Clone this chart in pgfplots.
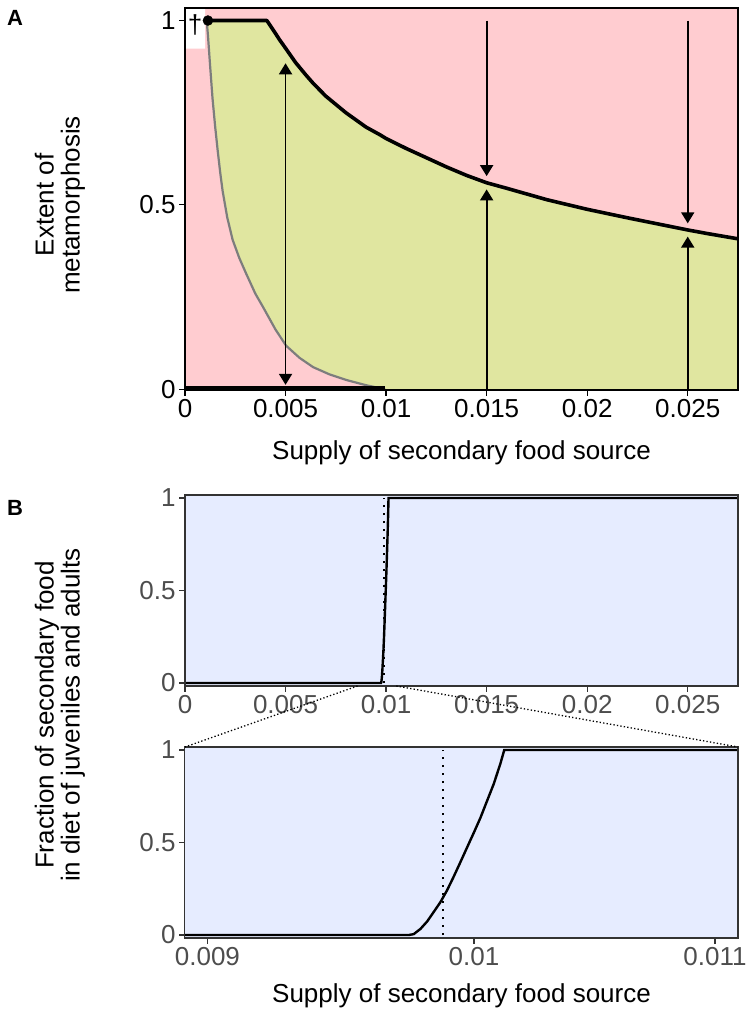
\documentclass[border=0pt]{standalone}
\usepackage{fontspec}
\setmainfont{Liberation Sans}
\usepackage{pgfplots}
\pgfplotsset{compat=1.18}
\usepackage{pgfplotstable}
\usetikzlibrary{arrows.meta}
\definecolor{pinkc}{RGB}{255,204,208}
\definecolor{greenc}{RGB}{224,230,160}
\definecolor{bluec}{RGB}{230,236,255}
\definecolor{greyc}{RGB}{125,125,125}
\definecolor{axg}{RGB}{51,51,51}
\definecolor{tickg}{RGB}{77,77,77}

% upper boundary (black curve), panel A
\pgfplotstableread{
x y
0.00114 1.000
0.00407 1.000
0.0045 0.965
0.0047 0.948
0.0050 0.925
0.0055 0.886
0.0060 0.853
0.00637 0.830
0.0070 0.795
0.0080 0.750
0.0090 0.711
0.0097 0.690
0.0100 0.680
0.0110 0.653
0.0120 0.628
0.0130 0.603
0.0140 0.580
0.0150 0.560
0.0160 0.545
0.0180 0.514
0.0200 0.488
0.0220 0.465
0.0240 0.443
0.0250 0.432
0.0260 0.422
0.0275 0.408
}\upperdata

% lower boundary (grey curve), panel A
\pgfplotstableread{
x y
0.00108 1.000
0.00115 0.953
0.00125 0.876
0.00137 0.788
0.00150 0.712
0.00162 0.650
0.00175 0.588
0.00187 0.538
0.00210 0.466
0.00237 0.405
0.00270 0.356
0.00303 0.315
0.00350 0.259
0.00387 0.224
0.00450 0.162
0.00503 0.118
0.00570 0.085
0.00637 0.060
0.00720 0.040
0.00803 0.025
0.00900 0.011
0.00995 0.000
}\greydata

% region between the two boundaries (closed outline)
\pgfplotstableread{
x y
0.00108 1.000
0.00407 1.000
0.0045 0.965
0.0047 0.948
0.0050 0.925
0.0055 0.886
0.0060 0.853
0.00637 0.830
0.0070 0.795
0.0080 0.750
0.0090 0.711
0.0097 0.690
0.0100 0.680
0.0110 0.653
0.0120 0.628
0.0130 0.603
0.0140 0.580
0.0150 0.560
0.0160 0.545
0.0180 0.514
0.0200 0.488
0.0220 0.465
0.0240 0.443
0.0250 0.432
0.0260 0.422
0.0275 0.408
0.0276 0.408
0.0276 -0.002
0.00995 -0.002
0.00995 0.000
0.00900 0.011
0.00803 0.025
0.00720 0.040
0.00637 0.060
0.00570 0.085
0.00503 0.118
0.00450 0.162
0.00387 0.224
0.00350 0.259
0.00303 0.315
0.00270 0.356
0.00237 0.405
0.00210 0.466
0.00187 0.538
0.00175 0.588
0.00162 0.650
0.00150 0.712
0.00137 0.788
0.00125 0.876
0.00115 0.953
0.00108 1.000
}\greenpoly

% fraction of secondary food in diet
\pgfplotstableread{
x y
0 0
0.0097456 0.000
0.0097649 0.005
0.0097908 0.033
0.0098166 0.073
0.0098422 0.124
0.0098683 0.178
0.0098944 0.242
0.0099202 0.315
0.0099465 0.393
0.0099728 0.473
0.0099988 0.551
0.0100253 0.633
0.0100518 0.724
0.0100781 0.815
0.0101047 0.924
0.0101207 1.000
0.0275 1.000
}\fracdata

\pgfplotstableread{
x y
0.00885 0.000
0.0097456 0.000
0.0097649 0.005
0.0097908 0.033
0.0098166 0.073
0.0098422 0.124
0.0098683 0.178
0.0098944 0.242
0.0099202 0.315
0.0099465 0.393
0.0099728 0.473
0.0099988 0.551
0.0100253 0.633
0.0100518 0.724
0.0100781 0.815
0.0101047 0.924
0.0101207 1.000
0.0112 1.000
}\fraczoomdata

\newcommand{\bigf}{\fontsize{26}{30}\selectfont}
\tikzset{arr/.style={black, line width=1.8pt}}

\begin{document}
\begin{tikzpicture}
\path[use as bounding box] (0,0) rectangle (745pt,1014pt);

% ---------------- Panel A ----------------
\begin{axis}[
  at={(185pt,624pt)}, anchor=south west,
  scale only axis, width=553pt, height=382pt,
  xmin=0, xmax=0.0275, ymin=-0.002, ymax=1.034,
  axis background/.style={fill=pinkc},
  axis on top,
  axis line style={black, line width=1.6pt},
  tick style={black, line width=1.2pt},
  tick align=outside, major tick length=6pt,
  xtick pos=left, ytick pos=left,
  xtick={0,0.005,0.01,0.015,0.02,0.025},
  xticklabels={0,0.005,0.01,0.015,0.02,0.025},
  ytick={0,0.5,1}, yticklabels={0,0.5,1},
  ticklabel style={font=\bigf, text=black},
  scaled x ticks=false, scaled y ticks=false,
]
\addplot[fill=greenc, draw=none] table {\greenpoly};
\addplot[fill=white, draw=none] coordinates {(0,0.924) (0.0010,0.924) (0.0010,1.04) (0,1.04) (0,0.924)};
\addplot[greyc, line width=2.2pt, line join=round] table {\greydata};
\addplot[black, line width=6pt] coordinates {(0,0) (0.00995,0)};
\addplot[black, line width=3.6pt, line join=round] table {\upperdata};
% arrows
\addplot[arr, {Triangle[width=13pt,length=11pt]}-{Triangle[width=13pt,length=11pt]}] coordinates {(0.005,0.012) (0.005,0.884)};
\addplot[arr, -{Triangle[width=13pt,length=11pt]}] coordinates {(0.015,1.0) (0.015,0.578)};
\addplot[arr, -{Triangle[width=13pt,length=11pt]}] coordinates {(0.015,0) (0.015,0.542)};
\addplot[arr, -{Triangle[width=13pt,length=11pt]}] coordinates {(0.025,1.0) (0.025,0.450)};
\addplot[arr, -{Triangle[width=13pt,length=11pt]}] coordinates {(0.025,0) (0.025,0.414)};
\addplot[only marks, mark=*, mark size=5pt, black] coordinates {(0.00114,1)};
\node[font=\bigf] at (axis cs:0.0005,0.988) {†};
\end{axis}

% ---------------- Panel B (top) ----------------
\begin{axis}[
  at={(185pt,328pt)}, anchor=south west,
  scale only axis, width=553pt, height=191pt,
  xmin=0, xmax=0.0275, ymin=-0.016, ymax=1.016,
  axis background/.style={fill=bluec},
  axis on top,
  axis line style={axg, line width=1.3pt},
  tick style={axg, line width=1.2pt},
  tick align=outside, major tick length=6pt,
  xtick pos=left, ytick pos=left,
  xtick={0,0.005,0.01,0.015,0.02,0.025},
  xticklabels={0,0.005,0.01,0.015,0.02,0.025},
  ytick={0,0.5,1}, yticklabels={0,0.5,1},
  ticklabel style={font=\bigf, text=tickg},
  scaled x ticks=false, scaled y ticks=false,
]
\addplot[black, line width=2.2pt, dash pattern=on 2pt off 6pt] coordinates {(0.009877,0) (0.009877,1)};
\addplot[black, line width=2.4pt] table {\fracdata};
\coordinate (zl) at (axis cs:0.00858,-0.016);
\coordinate (zr) at (axis cs:0.01051,-0.016);
\end{axis}

% ---------------- Panel B (zoom) ----------------
\begin{axis}[
  at={(185pt,76pt)}, anchor=south west,
  scale only axis, width=553pt, height=191pt,
  xmode=log, xmin=0.00892, xmax=0.0111, ymin=-0.016, ymax=1.016,
  axis background/.style={fill=bluec},
  axis on top,
  axis line style={axg, line width=1.3pt},
  tick style={axg, line width=1.2pt},
  tick align=outside, major tick length=6pt,
  xtick pos=left, ytick pos=left,
  xminorticks=false,
  xtick={0.009,0.01,0.011},
  xticklabels={0.009,0.01,0.011},
  ytick={0,0.5,1}, yticklabels={0,0.5,1},
  ticklabel style={font=\bigf, text=tickg},
]
\addplot[black, line width=2.2pt, dash pattern=on 2pt off 6pt] coordinates {(0.009877,0) (0.009877,1)};
\addplot[black, line width=2.4pt] table {\fraczoomdata};
\coordinate (ll) at (rel axis cs:0,1);
\coordinate (lr) at (rel axis cs:1,1);
\end{axis}

\draw[black, line width=1.3pt, dash pattern=on 1.3pt off 2.2pt] (zl) -- (ll);
\draw[black, line width=1.3pt, dash pattern=on 1.3pt off 2.2pt] (zr) -- (lr);

% labels
\node[font=\bfseries\fontsize{22}{24}\selectfont] at (15pt,996pt) {A};
\node[font=\bfseries\fontsize{22}{24}\selectfont] at (15pt,506pt) {B};
\node[anchor=base, font=\bigf] at (461.5pt,554pt) {Supply of secondary food source};
\node[anchor=base, font=\bigf] at (461.5pt,11pt) {Supply of secondary food source};
\node[rotate=90, align=center, font=\fontsize{26}{26}\selectfont] at (60pt,809pt) {Extent of\\metamorphosis};
\node[rotate=90, align=center, font=\fontsize{26}{26}\selectfont] at (60pt,299pt) {Fraction of secondary food\\in diet of juveniles and adults};
\end{tikzpicture}
\end{document}
